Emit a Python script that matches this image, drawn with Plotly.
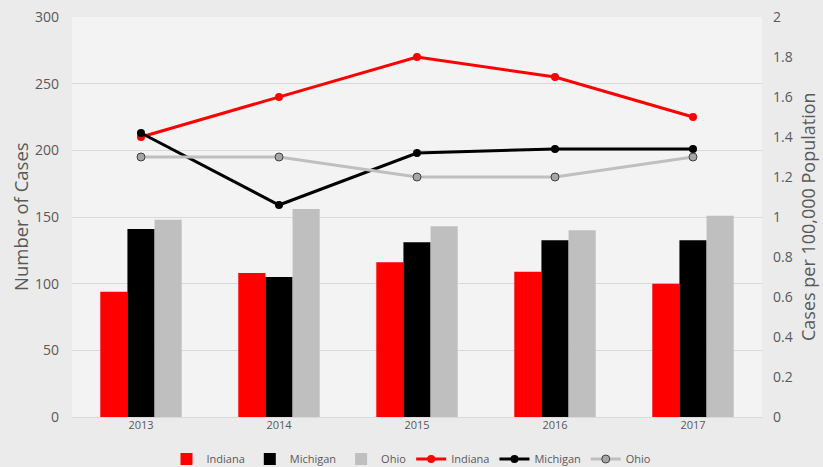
import plotly.graph_objects as go

years = ["2013", "2014", "2015", "2016", "2017"]
cases_indiana = [94, 108, 116, 109, 100]
cases_michigan = [141, 105, 131, 132.5, 132.5]
cases_ohio = [148, 156, 143, 140, 151]
rate_indiana = [1.40, 1.60, 1.80, 1.70, 1.50]
rate_michigan = [1.42, 1.06, 1.32, 1.34, 1.34]
rate_ohio = [1.30, 1.30, 1.20, 1.20, 1.30]

left_ticks = [0, 50, 100, 150, 200, 250, 300]
right_ticks = [0, 0.2, 0.4, 0.6, 0.8, 1, 1.2, 1.4, 1.6, 1.8, 2]

FONT = "Open Sans"
TICK = "#595959"
W, H = 823, 467
ML, MR, MT, MB = 72, 61, 17, 50
PW = W - ML - MR

fig = go.Figure()
fig.add_bar(x=years, y=cases_indiana, name="Indiana", marker=dict(color="#ff0000", line=dict(width=0)))
fig.add_bar(x=years, y=cases_michigan, name="Michigan", marker=dict(color="#000000", line=dict(width=0)))
fig.add_bar(x=years, y=cases_ohio, name="Ohio", marker=dict(color="#bfbfbf", line=dict(width=0)))

fig.add_scatter(x=years, y=rate_indiana, name="Indiana", yaxis="y2", mode="lines+markers",
                line=dict(color="#ff0000", width=3), marker=dict(color="#ff0000", size=8))
fig.add_scatter(x=years, y=rate_michigan, name="Michigan", yaxis="y2", mode="lines+markers",
                line=dict(color="#000000", width=3), marker=dict(color="#000000", size=8))
fig.add_scatter(x=years, y=rate_ohio, name="Ohio", yaxis="y2", mode="lines+markers",
                line=dict(color="#bfbfbf", width=3),
                marker=dict(color="#a6a6a6", size=8, line=dict(color="#404040", width=1)))

fig.update_layout(
    width=W, height=H,
    margin=dict(l=ML, r=MR, t=MT, b=MB, autoexpand=False),
    paper_bgcolor="#ebebeb",
    plot_bgcolor="#f3f3f3",
    barmode="group", bargap=0.41, bargroupgap=0,
    font=dict(family=FONT, color=TICK),
    showlegend=True,
    legend=dict(orientation="h", x=0.5, xanchor="center", xref="container",
                y=(467 - 459) / 467, yanchor="middle", yref="container",
                font=dict(size=11, color=TICK), bgcolor="rgba(0,0,0,0)",
                tracegroupgap=0),
    xaxis=dict(type="category", showgrid=False, showline=False, ticks="", automargin=False,
               tickfont=dict(size=11, color=TICK)),
    yaxis=dict(range=[0, 300], tickvals=left_ticks, showgrid=True, gridcolor="#d9d9d9",
               gridwidth=1, zeroline=True, zerolinecolor="#d9d9d9", zerolinewidth=1,
               showline=False, tickfont=dict(size=14, color=TICK), ticks="", automargin=False,
               ticklabelstandoff=12),
    yaxis2=dict(range=[0, 2], tickvals=right_ticks, overlaying="y", side="right",
                showgrid=False, zeroline=False, showline=False, automargin=False,
                tickfont=dict(size=14, color=TICK), ticks="", ticklabelstandoff=10),
    annotations=[
        dict(text="Number of Cases", textangle=-90, xref="paper", yref="paper",
             x=(20 - ML) / PW, y=0.5, xanchor="center", yanchor="middle", showarrow=False,
             font=dict(size=18.5, color=TICK, family=FONT)),
        dict(text="Cases per 100,000 Population", textangle=-90, xref="paper", yref="paper",
             x=(808 - ML) / PW, y=0.5, xanchor="center", yanchor="middle", showarrow=False,
             font=dict(size=18, color=TICK, family=FONT)),
    ],
)

fig.write_html("out.html", config={"displayModeBar": False},
               post_script="document.body.style.margin='0';")
